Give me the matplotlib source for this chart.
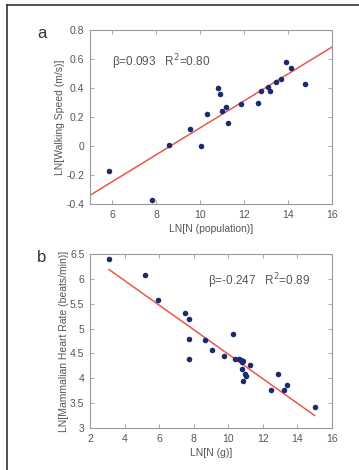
import matplotlib.pyplot as plt
import numpy as np
from matplotlib.lines import Line2D
from matplotlib.ticker import FormatStrFormatter

plt.rcParams['font.family'] = ['Liberation Sans', 'DejaVu Sans']

# panel a: walking speed vs city population
pop_ln = [5.85, 7.8, 8.6, 9.55, 10.05, 10.3, 10.82, 10.9, 10.98, 11.19, 11.28,
          11.87, 12.65, 12.77, 13.07, 13.17, 13.44, 13.69, 13.92, 14.13, 14.77]
speed_ln = [-0.17, -0.37, 0.01, 0.12, 0.0, 0.22, 0.40, 0.36, 0.24, 0.27, 0.16,
            0.29, 0.30, 0.38, 0.41, 0.38, 0.445, 0.46, 0.58, 0.54, 0.43]
fit_a = (0.093, -0.805)  # slope, intercept
xfit_a = [5, 16]

# panel b: mammalian heart rate vs body mass
mass_ln = [3.1, 5.2, 5.95, 7.5, 7.75, 7.7, 7.75, 8.65, 9.05, 9.75, 10.25, 10.4,
           10.6, 10.72, 10.78, 10.85, 10.8, 10.95, 11.02, 10.88, 11.25, 12.45,
           12.9, 13.25, 13.4, 15.0]
rate_ln = [6.40, 6.08, 5.58, 5.32, 5.19, 4.79, 4.38, 4.78, 4.56, 4.44, 4.90, 4.39,
           4.38, 4.36, 4.32, 4.35, 4.19, 4.09, 4.05, 3.95, 4.27, 3.76,
           4.09, 3.76, 3.87, 3.43]
fit_b = (-0.247, 6.955)
xfit_b = [3.1, 15.0]

txt_col = '#555555'
dot_col = '#1c2a6e'
line_col = '#e8584a'

fig = plt.figure(figsize=(3.59, 4.70), dpi=100)

# figure frame (top and left edges only)
fig.add_artist(Line2D([7/359, 1], [1-5/470, 1-5/470], color='#333333', lw=1.2, transform=fig.transFigure))
fig.add_artist(Line2D([7/359, 7/359], [0, 1-5/470], color='#333333', lw=1.2, transform=fig.transFigure))


def style_axes(ax):
    for s in ax.spines.values():
        s.set_color('#9a9a9a')
        s.set_linewidth(0.8)
    ax.tick_params(direction='in', top=True, right=True, length=3, width=0.6,
                   color='#9a9a9a', labelsize=7.5, labelcolor=txt_col, pad=4)
    ax.xaxis.set_major_formatter(FormatStrFormatter('%g'))
    ax.yaxis.set_major_formatter(plt.FuncFormatter(lambda v, p: '%g' % round(v, 1)))


ax1 = fig.add_axes([0.2507, 0.566, 0.674, 0.370])
ax1.plot(xfit_a, np.polyval(fit_a, xfit_a), color=line_col, lw=1.1, zorder=2)
ax1.scatter(pop_ln, speed_ln, s=16, color=dot_col, zorder=3, linewidths=0)
ax1.set_xlim(5, 16)
ax1.set_ylim(-0.4, 0.8)
ax1.set_xticks(np.arange(6, 17, 2))
ax1.set_yticks(np.arange(-0.4, 0.81, 0.2))
ax1.set_xlabel('LN[N (population)]', fontsize=7.5, color=txt_col, labelpad=3)
ax1.set_ylabel('LN[Walking Speed (m/s)]', fontsize=7.5, color=txt_col, labelpad=1)
ax1.text(6.0, 0.58, r'$\mathregular{\beta}$=0.093   R$^2$=0.80', fontsize=8.5,
         color=txt_col, va='center')
style_axes(ax1)
fig.text(37/359, 1-33/470, 'a', fontsize=12, color='#333333', va='center')

ax2 = fig.add_axes([0.2507, 0.0894, 0.674, 0.370])
ax2.plot(xfit_b, np.polyval(fit_b, xfit_b), color=line_col, lw=1.1, zorder=2)
ax2.scatter(mass_ln, rate_ln, s=16, color=dot_col, zorder=3, linewidths=0)
ax2.set_xlim(2, 16)
ax2.set_ylim(3, 6.5)
ax2.set_xticks(np.arange(2, 17, 2))
ax2.set_yticks(np.arange(3, 6.51, 0.5))
ax2.set_xlabel('LN[N (g)]', fontsize=7.5, color=txt_col, labelpad=3)
ax2.set_ylabel('LN[Mammalian Heart Rate (beats/min)]', fontsize=7.5, color=txt_col, labelpad=1)
ax2.text(8.8, 5.96, r'$\mathregular{\beta}$=-0.247   R$^2$=0.89', fontsize=8.5,
         color=txt_col, va='center')
style_axes(ax2)
fig.text(37/359, 1-258/470, 'b', fontsize=12, color='#333333', va='center')

fig.savefig('out.png', dpi=100)
